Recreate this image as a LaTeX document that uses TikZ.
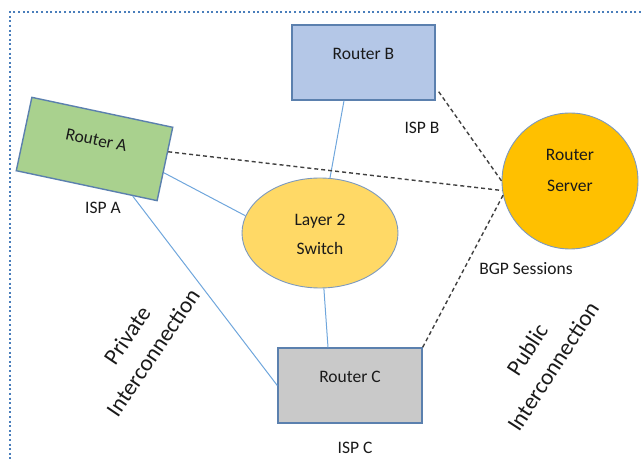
\documentclass[tikz,border=0pt]{standalone}
\usepackage{fontspec}
\setmainfont{Carlito}
\usetikzlibrary{calc,shapes.geometric}

\definecolor{frameblue}{HTML}{4A7EBB}
\definecolor{edgeblue}{HTML}{5B80AE}
\definecolor{linkblue}{HTML}{6FA6DC}
\definecolor{greenfill}{HTML}{A9D18E}
\definecolor{bluefill}{HTML}{B4C7E7}
\definecolor{grayfill}{HTML}{C9C9C9}
\definecolor{switchfill}{HTML}{FFD966}
\definecolor{serverfill}{HTML}{FFC000}
\definecolor{dashgray}{HTML}{404040}
\definecolor{txt}{HTML}{1A1A1A}

\tikzset{
  frameline/.style={frameblue, line width=2pt, dash pattern=on 2pt off 2.6pt},
  routerbox/.style={draw=edgeblue, line width=1.4pt, rectangle, inner sep=0pt},
  bubble/.style={draw=edgeblue!80, line width=0.9pt, inner sep=0pt},
  lbl/.style={text=txt, align=center, inner sep=0pt,
    font=\fontsize{17.5pt}{30pt}\selectfont},
  biglbl/.style={lbl, font=\fontsize{23pt}{31pt}\selectfont},
  link/.style={linkblue, line width=1pt},
  bgp/.style={dashgray, line width=1.4pt, dash pattern=on 4pt off 3pt}
}

\begin{document}
\begin{tikzpicture}[x=1pt, y=-1pt]
\useasboundingbox (0,0) rectangle (641,462);

% dotted outer frame (top and left edges)
\draw[frameline] (641,12) -- (10,12) -- (10,462);

% routers, switch and route server
\node[routerbox, fill=greenfill, rotate=-12, minimum width=144pt, minimum height=75pt] (ra) at (94.5,149) {};
\node[routerbox, fill=bluefill, minimum width=143pt, minimum height=75pt] (rb) at (363.5,62.5) {};
\node[routerbox, fill=grayfill, minimum width=144pt, minimum height=75pt] (rc) at (350,385.5) {};
\node[bubble, ellipse, fill=switchfill, minimum width=156pt, minimum height=110pt] (sw) at (320,233) {};
\node[bubble, circle, fill=serverfill, minimum size=136pt] (rs) at (570,181) {};

% node captions
\node[lbl, rotate=-12] (ratext) at (96.4,140.2) {Router A};
\node[lbl] (rbtext) at (363.5,54) {Router B};
\node[lbl] (rctext) at (350,377) {Router C};
\node[lbl, font=\fontsize{17.5pt}{29pt}\selectfont] (swtext) at (320,234.5) {Layer 2\\Switch};
\node[lbl, font=\fontsize{17.5pt}{31pt}\selectfont] (rstext) at (570,170.5) {Router\\Server};

% physical links
\draw[link] ([xshift=-19.5pt]rb.south) -- (sw);
\draw[link] ($(ra.east)!0.23!(ra.south east)$) -- (sw.167);
\draw[link] ($(ra.south)!0.65!(ra.south east)$) -- (rc.west);
\draw[link] ([xshift=-22pt]rc.north) -- (sw);

% BGP sessions to the route server
\draw[bgp] ($(ra.east)!0.33!(ra.north east)$) -- (rs.188);
\draw[bgp] ($(rb.south east)+(3,-9)$) -- (rs.180);
\draw[bgp] (rc.north east) -- (rs.192);

% ISP and session labels
\node[lbl] (ispa) at (103,208) {ISP A};
\node[lbl] (ispb) at (422,128) {ISP B};
\node[lbl] (ispc) at (355,448) {ISP C};
\node[lbl] (bgptext) at (526,269) {BGP Sessions};

% interconnection types
\node[biglbl, rotate=56] (private) at (140,344) {Private\\Interconnection};
\node[biglbl, rotate=57] (public) at (540,358) {Public\\Interconnection};
\end{tikzpicture}
\end{document}
